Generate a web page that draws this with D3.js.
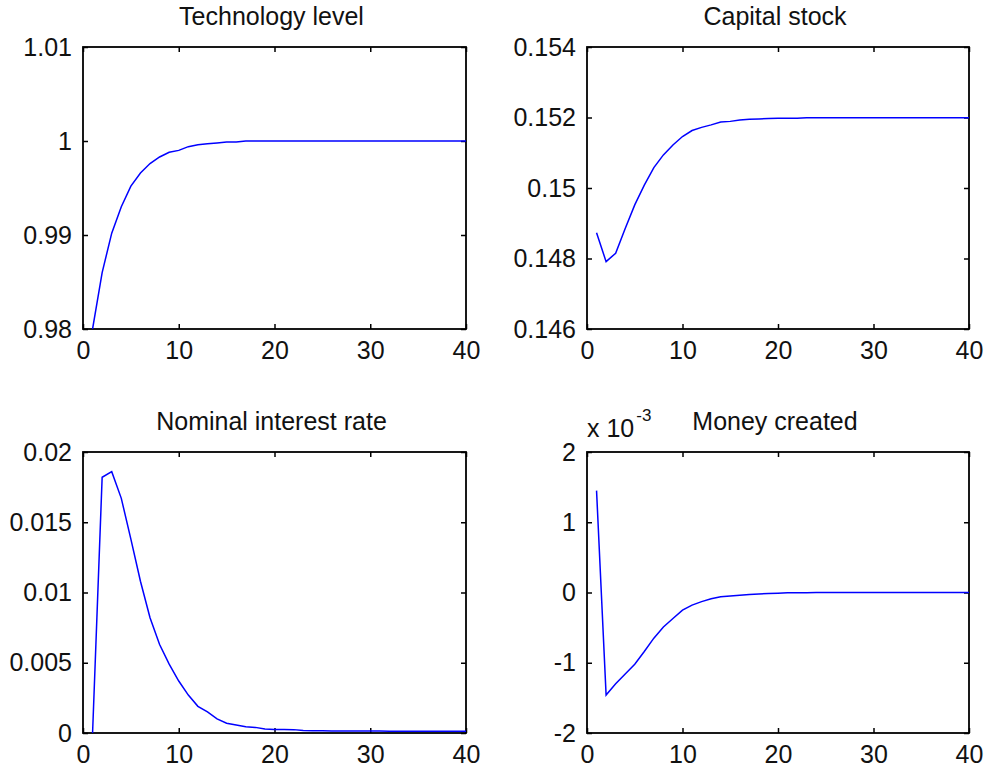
<!DOCTYPE html>
<html>
<head>
<meta charset="utf-8">
<script src="https://cdn.jsdelivr.net/npm/d3@7"></script>
<style>
  body { margin: 0; background: #fff; }
  text { font-family: "Liberation Sans", Arial, sans-serif; fill: #111; }
</style>
</head>
<body>
<svg id="chart" width="985" height="772"></svg>
<script>
// periods 1..40
const periods = d3.range(1, 41);
const xTicks = [0, 10, 20, 30, 40];

const technology = [0.9800, 0.9860, 0.9902, 0.9930, 0.9952, 0.9966, 0.9976, 0.9983, 0.9988, 0.9990,
  0.9994, 0.9996, 0.9997, 0.9998, 0.9999, 0.9999, 1.0000, 1.0000, 1.0000, 1.0000,
  1.0000, 1.0000, 1.0000, 1.0000, 1.0000, 1.0000, 1.0000, 1.0000, 1.0000, 1.0000,
  1.0000, 1.0000, 1.0000, 1.0000, 1.0000, 1.0000, 1.0000, 1.0000, 1.0000, 1.0000];
const techTicks = [0.98, 0.99, 1, 1.01];

const capital = [0.14873, 0.14791, 0.14815, 0.14885, 0.14952, 0.15008, 0.15058, 0.15094, 0.15122, 0.15146,
  0.15163, 0.15172, 0.15179, 0.15187, 0.15189, 0.15193, 0.15195, 0.15196, 0.15197, 0.15198,
  0.15198, 0.15198, 0.15199, 0.15199, 0.15199, 0.15199, 0.15199, 0.15199, 0.15199, 0.15199,
  0.15199, 0.15199, 0.15199, 0.15199, 0.15199, 0.15199, 0.15199, 0.15199, 0.15199, 0.15199];
const capitalTicks = [0.146, 0.148, 0.15, 0.152, 0.154];

const interest = [0.0000, 0.0182, 0.0186, 0.0167, 0.0138, 0.0108, 0.0082, 0.0063, 0.0049, 0.0037,
  0.0027, 0.0019, 0.0015, 0.0010, 0.0007, 0.00057, 0.00045, 0.0004, 0.00028, 0.00025,
  0.00025, 0.00024, 0.00017, 0.00016, 0.00016, 0.00015, 0.00015, 0.00015, 0.00014, 0.00014,
  0.00014, 0.00013, 0.00013, 0.00013, 0.00013, 0.00012, 0.00012, 0.00012, 0.00012, 0.00012];
const interestTicks = [0, 0.005, 0.01, 0.015, 0.02];

const money = [0.00145, -0.00146, -0.00130, -0.00116, -0.00102, -0.00084, -0.00065, -0.00049, -0.00037, -0.00025,
  -0.00018, -0.00013, -0.00009, -0.00006, -0.00005, -0.00004, -0.00003, -0.00002, -0.000015, -0.00001,
  -0.000005, -0.000003, -0.000002, -0.000001, 0, 0, 0, 0, 0, 0,
  0, 0, 0, 0, 0, 0, 0, 0, 0, 0];
const moneyTicks = [-0.002, -0.001, 0, 0.001, 0.002];

const svg = d3.select("#chart");

const panels = [
  { title: "Technology level", data: technology, ticks: techTicks, fmt: d => d3.format("")(d),
    x0: 83, x1: 466, y0: 47, y1: 329 },
  { title: "Capital stock", data: capital, ticks: capitalTicks, fmt: d => d3.format("")(d),
    x0: 587, x1: 969, y0: 47, y1: 329 },
  { title: "Nominal interest rate", data: interest, ticks: interestTicks, fmt: d => d3.format("")(d),
    x0: 83, x1: 466, y0: 452, y1: 733 },
  { title: "Money created", data: money, ticks: moneyTicks, fmt: d => String(Math.round(d * 1000)),
    x0: 587, x1: 969, y0: 452, y1: 733, exponent: true }
];

panels.forEach((p, i) => drawPanel(p, i));

function drawPanel(p, i) {
  const w = p.x1 - p.x0, h = p.y1 - p.y0;
  const xScale = d3.scaleLinear().domain([0, 40]).range([0, w]);
  const yScale = d3.scaleLinear().domain(d3.extent(p.ticks)).range([h, 0]);

  const g = svg.append("g").attr("transform", `translate(${p.x0},${p.y0})`);

  g.append("clipPath").attr("id", "clip" + i)
    .append("rect").attr("width", w).attr("height", h);

  // inward ticks on all four sides
  const xAxis = d3.axisBottom(xScale).tickValues(xTicks).tickSize(-5).tickSizeOuter(0).tickPadding(12);
  const yAxis = d3.axisLeft(yScale).tickValues(p.ticks).tickSize(-5).tickSizeOuter(0).tickPadding(11).tickFormat(p.fmt);
  const topAxis = d3.axisTop(xScale).tickValues(xTicks).tickSize(-5).tickSizeOuter(0).tickFormat("");
  const rightAxis = d3.axisRight(yScale).tickValues(p.ticks).tickSize(-5).tickSizeOuter(0).tickFormat("");

  g.append("g").attr("transform", `translate(0,${h})`).call(xAxis);
  g.append("g").call(yAxis);
  g.append("g").call(topAxis);
  g.append("g").attr("transform", `translate(${w},0)`).call(rightAxis);

  g.selectAll(".domain").remove();
  g.selectAll(".tick line").attr("stroke", "#000").attr("stroke-width", 1.5);
  g.selectAll(".tick text").style("font-size", "25px").attr("fill", "#111");

  g.append("rect")
    .attr("width", w).attr("height", h)
    .attr("fill", "none").attr("stroke", "#000").attr("stroke-width", 1.8);

  const line = d3.line()
    .x((d, k) => xScale(periods[k]))
    .y(d => yScale(d));

  g.append("path")
    .datum(p.data)
    .attr("clip-path", `url(#clip${i})`)
    .attr("fill", "none")
    .attr("stroke", "#0000ff")
    .attr("stroke-width", 1.5)
    .attr("d", line);

  svg.append("text")
    .attr("x", (p.x0 + p.x1) / 2 - 3)
    .attr("y", p.y0 - 22)
    .attr("text-anchor", "middle")
    .style("font-size", "25px")
    .text(p.title);

  if (p.exponent) {
    const t = svg.append("text")
      .attr("x", p.x0)
      .attr("y", p.y0 - 15)
      .style("font-size", "25px");
    t.append("tspan").text("x 10");
    t.append("tspan").attr("dy", -16).attr("dx", 2).style("font-size", "17px").text("-3");
  }
}
</script>
</body>
</html>
